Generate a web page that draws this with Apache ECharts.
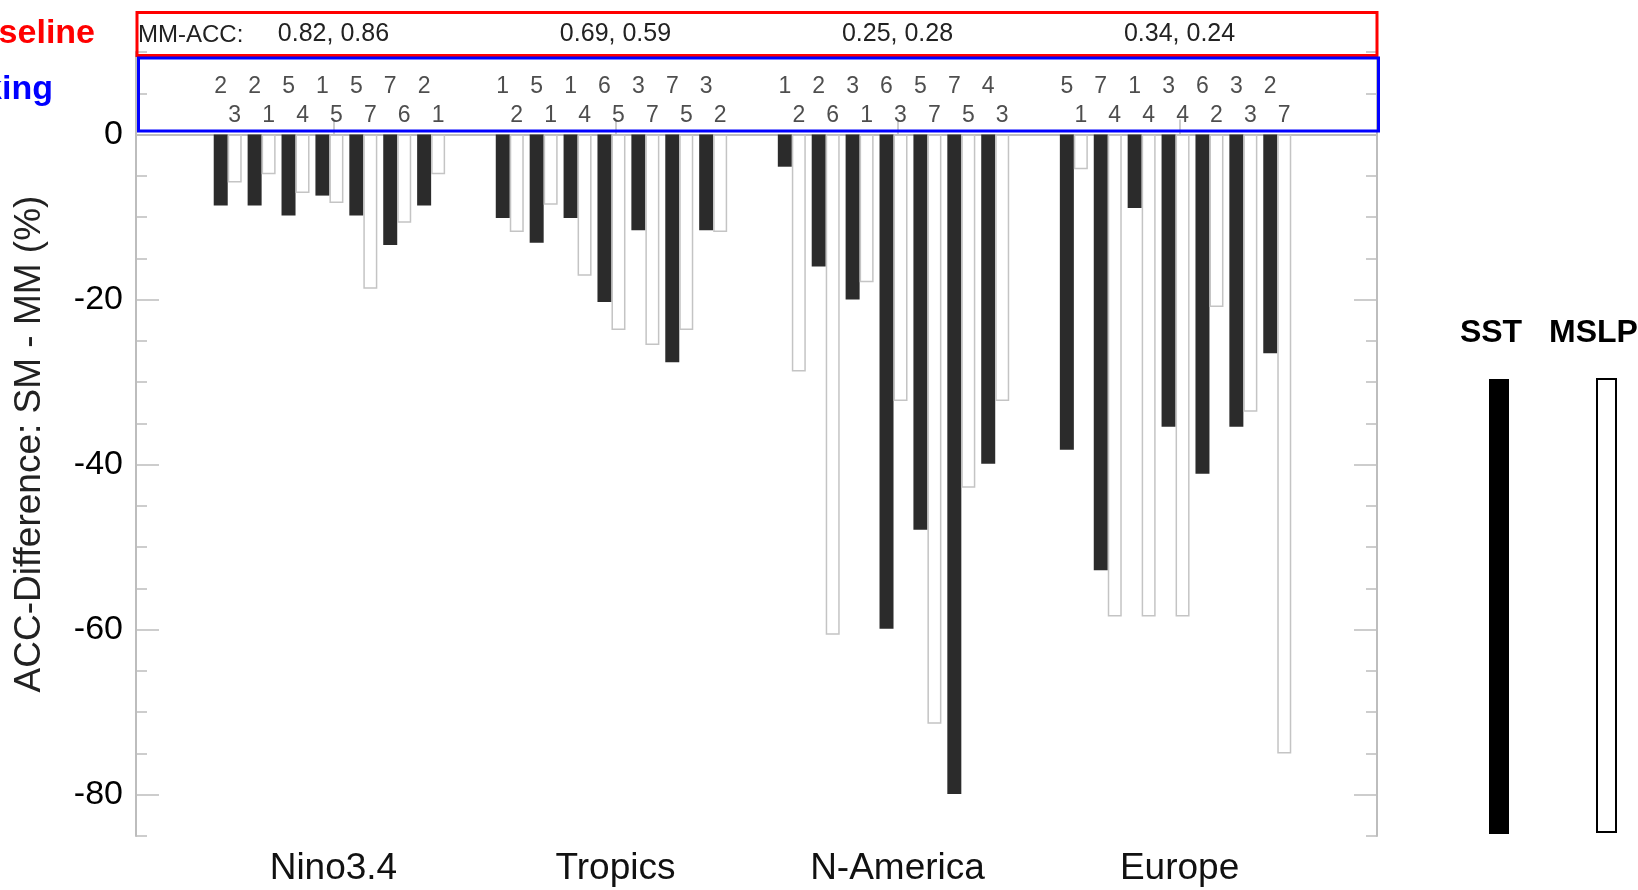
<!DOCTYPE html>
<html>
<head>
<meta charset="utf-8">
<script src="https://cdn.jsdelivr.net/npm/echarts@6.0.0/dist/echarts.min.js"></script>
<style>
  html, body { margin: 0; padding: 0; background: #ffffff; }
  #chart { width: 1638px; height: 890px; }
</style>
</head>
<body>
<div id="chart"></div>
<script>
// Regions on the x axis and the multi-model baseline ACC (SST, MSLP) for each
const regions = ['Nino3.4', 'Tropics', 'N-America', 'Europe'];
const mmAcc = ['0.82, 0.86', '0.69, 0.59', '0.25, 0.28', '0.34, 0.24'];

// ACC difference single model minus multi-model (%), seven models per region
const sstDiff = [
  [-8.6, -8.6, -9.8, -7.4, -9.8, -13.4, -8.6],
  [-10.1, -13.1, -10.1, -20.3, -11.6, -27.6, -11.6],
  [-3.9, -16.0, -20.0, -59.9, -47.9, -79.9, -39.9],
  [-38.2, -52.8, -8.9, -35.4, -41.1, -35.4, -26.5]
];
const mslpDiff = [
  [-5.8, -4.8, -7.1, -8.3, -18.7, -10.7, -4.8],
  [-11.8, -8.5, -17.1, -23.7, -25.5, -23.7, -11.8],
  [-28.7, -60.6, -17.9, -32.3, -71.4, -42.8, -32.3],
  [-4.2, -58.4, -58.4, -58.4, -20.9, -33.6, -75.0]
];

// Model ranking written above each bar
const sstRank = [
  [2, 2, 5, 1, 5, 7, 2],
  [1, 5, 1, 6, 3, 7, 3],
  [1, 2, 3, 6, 5, 7, 4],
  [5, 7, 1, 3, 6, 3, 2]
];
const mslpRank = [
  [3, 1, 4, 5, 7, 6, 1],
  [2, 1, 4, 5, 7, 5, 2],
  [2, 6, 1, 3, 7, 5, 3],
  [1, 4, 4, 4, 2, 3, 7]
];

const yMajorTicks = [0, -20, -40, -60, -80];
const regionTicks = [1, 2, 3, 4];

// ---- layout helpers (axis units) ----
const PAIR_STEP = 0.1202;    // distance between neighbouring model pairs
const GROUP_SHIFT = -0.0142; // pairs sit slightly left of the region tick
const BAR_W = 14;            // px, each bar of a pair
const RANK_ROW_TOP = 5.8;    // y value of the SST rank row
const RANK_ROW_BOTTOM = 2.3; // y value of the MSLP rank row

function pairX(g, i) { return g + 1 + GROUP_SHIFT + (i - 3) * PAIR_STEP; }

const sstData = [], mslpData = [], sstRankData = [], mslpRankData = [];
regions.forEach((r, g) => {
  for (let i = 0; i < 7; i++) {
    const x = pairX(g, i);
    sstData.push([x, sstDiff[g][i]]);
    mslpData.push([x, mslpDiff[g][i]]);
    sstRankData.push([x, RANK_ROW_TOP, sstRank[g][i]]);
    mslpRankData.push([x, RANK_ROW_BOTTOM, mslpRank[g][i]]);
  }
});

const FONT = '"Liberation Sans", Arial, Helvetica, sans-serif';
const GREY = '#bdbdbd';

const chart = echarts.init(document.getElementById('chart'), null, { renderer: 'canvas' });

const baseX = {
  type: 'value', min: 0.3, max: 4.7, splitLine: { show: false },
  axisLine: { show: true, lineStyle: { color: GREY, width: 2 } },
  axisTick: { show: true, inside: true, length: 15, customValues: regionTicks, lineStyle: { color: GREY, width: 1.5 } }
};

function yAxisPair(position) {
  const showLabels = position === 'left';
  return [
    {
      type: 'value', position: position, min: -85, max: 10, splitLine: { show: false },
      axisLine: { show: true, onZero: false, lineStyle: { color: GREY, width: 2 } },
      axisTick: { show: true, inside: true, length: 23, customValues: yMajorTicks, lineStyle: { color: GREY, width: 1.5 } },
      axisLabel: showLabels ? {
        show: true, customValues: yMajorTicks, margin: 13,
        fontFamily: FONT, fontSize: 34, color: '#000'
      } : { show: false },
      name: showLabels ? 'ACC-Difference: SM - MM (%)' : '',
      nameLocation: 'middle', nameRotate: 90, nameGap: 88,
      nameTextStyle: { fontFamily: FONT, fontSize: 37, color: '#222' }
    },
    {
      type: 'value', position: position, min: -85, max: 10, interval: 5,
      splitLine: { show: false }, axisLine: { show: false }, axisLabel: { show: false },
      axisTick: { show: true, inside: true, length: 11, lineStyle: { color: GREY, width: 1.5 } }
    }
  ];
}

const option = {
  backgroundColor: '#ffffff',
  animation: false,
  grid: { left: 136, top: 52, width: 1241, height: 784, containLabel: false, outerBoundsMode: 'none' },
  xAxis: [
    Object.assign({}, baseX, {
      position: 'bottom',
      axisLabel: {
        show: true, customValues: regionTicks, margin: 14,
        formatter: v => regions[Math.round(v) - 1],
        fontFamily: FONT, fontSize: 37, lineHeight: 37, color: '#111'
      }
    }),
    Object.assign({}, baseX, {
      position: 'top',
      axisLabel: {
        show: true, customValues: regionTicks, margin: 5,
        formatter: v => mmAcc[Math.round(v) - 1],
        fontFamily: FONT, fontSize: 25, lineHeight: 25, color: '#222'
      }
    })
  ],
  yAxis: yAxisPair('left').concat(yAxisPair('right')),
  series: [
    {
      name: 'SST', type: 'bar', xAxisIndex: 0, yAxisIndex: 0,
      barWidth: BAR_W, barGap: '0%',
      itemStyle: { color: '#2b2b2b' },
      data: sstData
    },
    {
      name: 'MSLP', type: 'bar', xAxisIndex: 0, yAxisIndex: 0,
      barWidth: BAR_W, barGap: '0%',
      itemStyle: { color: '#ffffff', borderColor: '#c4c4c4', borderWidth: 1.5 },
      data: mslpData
    },
    {
      name: 'SST rank', type: 'scatter', xAxisIndex: 0, yAxisIndex: 0,
      symbol: 'rect', symbolSize: 1, itemStyle: { color: 'rgba(0,0,0,0)' },
      label: {
        show: true, position: 'inside', offset: [-BAR_W / 2, 0],
        formatter: p => String(p.value[2]),
        fontFamily: FONT, fontSize: 23, color: '#222'
      },
      data: sstRankData, z: 5
    },
    {
      name: 'MSLP rank', type: 'scatter', xAxisIndex: 0, yAxisIndex: 0,
      symbol: 'rect', symbolSize: 1, itemStyle: { color: 'rgba(0,0,0,0)' },
      label: {
        show: true, position: 'inside', offset: [BAR_W / 2, 0],
        formatter: p => String(p.value[2]),
        fontFamily: FONT, fontSize: 23, color: '#222'
      },
      data: mslpRankData, z: 5
    }
  ],
  graphic: [
    // baseline box and ranking box
    { type: 'rect', z: 100, shape: { x: 137, y: 12.5, width: 1240, height: 43 },
      style: { fill: 'none', stroke: '#ff0000', lineWidth: 3 } },
    { type: 'rect', z: 100, shape: { x: 138.5, y: 58, width: 1240, height: 73 },
      style: { fill: 'none', stroke: '#0000ff', lineWidth: 3 } },
    { type: 'text', z: 101, x: 138, y: 35,
      style: { text: 'MM-ACC:', font: '24px ' + FONT, fill: '#222', align: 'left', verticalAlign: 'middle' } },
    { type: 'text', z: 101, x: 95, y: 34,
      style: { text: 'Baseline', font: 'bold 34px ' + FONT, fill: '#ff0000', align: 'right', verticalAlign: 'middle' } },
    { type: 'text', z: 101, x: 53, y: 90,
      style: { text: 'Ranking', font: 'bold 34px ' + FONT, fill: '#0000ff', align: 'right', verticalAlign: 'middle' } },
    // legend
    { type: 'text', z: 101, x: 1491, y: 333,
      style: { text: 'SST', font: 'bold 32px ' + FONT, fill: '#000', align: 'center', verticalAlign: 'middle' } },
    { type: 'text', z: 101, x: 1549, y: 333,
      style: { text: 'MSLP', font: 'bold 32px ' + FONT, fill: '#000', align: 'left', verticalAlign: 'middle' } },
    { type: 'rect', z: 100, shape: { x: 1489, y: 379, width: 20, height: 455 },
      style: { fill: '#000000' } },
    { type: 'rect', z: 100, shape: { x: 1597, y: 379, width: 19, height: 453 },
      style: { fill: '#ffffff', stroke: '#000000', lineWidth: 2 } }
  ]
};

chart.setOption(option);
</script>
</body>
</html>
